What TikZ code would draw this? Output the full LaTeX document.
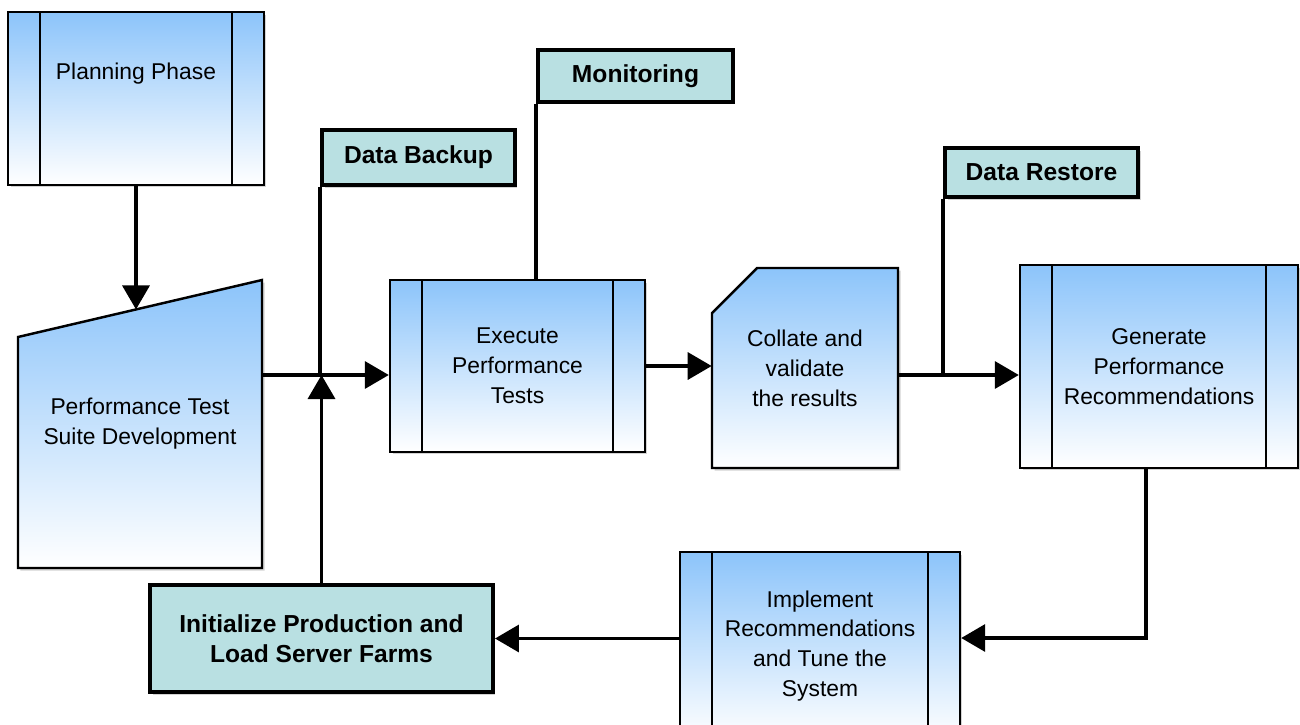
\documentclass[tikz,border=0pt]{standalone}
\usepackage{fontspec}
\setmainfont{Liberation Sans}
\usetikzlibrary{arrows.meta,calc,shadows}
\definecolor{procblue}{RGB}{140,196,250}
\definecolor{flagteal}{RGB}{185,224,226}
\tikzset{
	boxshadow/.style={drop shadow={shadow xshift=0.05cm, shadow yshift=-0.05cm, opacity=0.35}},
	blueshade/.style={top color=procblue, bottom color=white, draw=black, line width=1.4pt, boxshadow},
	plaintext/.style={align=center, font=\fontsize{13}{17}\selectfont},
	subproc/.style={blueshade, rectangle, plaintext, path picture={
		\draw[line width=1.4pt] ([xshift=0.64cm]path picture bounding box.north west) -- ([xshift=0.64cm]path picture bounding box.south west);
		\draw[line width=1.4pt] ([xshift=-0.64cm]path picture bounding box.north east) -- ([xshift=-0.64cm]path picture bounding box.south east);}},
	flagbox/.style={rectangle, draw=black, fill=flagteal, line width=2.3pt, boxshadow, align=center, font=\fontsize{14}{17}\selectfont\bfseries},
	link/.style={line width=2pt},
	flow/.style={link, -{Triangle[length=0.48cm,width=0.54cm]}}
}

\begin{document}
\begin{tikzpicture}[x=0.02cm, y=-0.02cm]
		%%%%% START %%%%%
		\useasboundingbox (0, 0) rectangle (1300, 724);
		
		% process boxes
		\node[subproc, minimum width=5.12cm, minimum height=3.46cm,
			label={[plaintext, yshift=0.50cm]center:Planning Phase}] (plan) at (136, 98.5) {};
		\draw[blueshade] (18, 337) -- (262, 280) -- (262, 568) -- (18, 568) -- cycle;
		\node[plaintext, minimum width=4.88cm, minimum height=5.76cm] (suite) at (140, 424) {Performance Test\\Suite Development};
		\coordinate (suitein) at ($(18, 337)!0.4836!(262, 280)$);
		\node[subproc, minimum width=5.10cm, minimum height=3.44cm] (exec) at (517.5, 366) {Execute\\Performance\\Tests};
		\draw[blueshade] (712, 313) -- (757, 268) -- (898, 268) -- (898, 468) -- (712, 468) -- cycle;
		\node[plaintext, minimum width=3.72cm, minimum height=4.00cm] (collate) at (805, 368) {Collate and\\validate\\the results};
		\node[subproc, minimum width=5.56cm, minimum height=4.06cm] (gen) at (1159, 366.5) {Generate\\Performance\\Recommendations};
		\node[subproc, minimum width=5.60cm, minimum height=3.76cm] (impl) at (820, 646) {Implement\\Recommendations\\and Tune the\\System};
		
		% flag boxes
		\node[flagbox, minimum width=6.86cm, minimum height=2.14cm] (init) at (321.5, 638.5) {Initialize Production and\\Load Server Farms};
		\node[flagbox, minimum width=3.86cm, minimum height=1.10cm] (backup) at (418.5, 157.5) {Data Backup};
		\node[flagbox, minimum width=3.90cm, minimum height=1.04cm] (mon) at (635.5, 76) {Monitoring};
		\node[flagbox, minimum width=3.86cm, minimum height=0.98cm] (restore) at (1041.5, 172.5) {Data Restore};
		
		% connectors
		\coordinate (j1) at (321.5, 375);
		\coordinate (j2) at (945, 375);
		\coordinate (j3) at (1146, 638);
		\draw[flow] (plan.south) -- (suitein);
		\draw[flow] (suite.east |- j1) -- (exec.west |- j1);
		\draw[link] (backup.south west) -- (backup.south west |- j1);
		\draw[flow] (init.north) -- (j1);
		\draw[link] (mon.south west) -- (mon.south west |- exec.north);
		\draw[flow] (exec.east) -- (exec.east -| collate.west);
		\draw[flow] (collate.east |- j2) -- (gen.west |- j2);
		\draw[link] (restore.south west) -- (restore.south west |- j2);
		\draw[flow] (gen.south -| j3) -- (j3) -- (impl.east |- j3);
		\draw[flow] (impl.west |- init.east) -- (init.east);
		
		%%%%% END %%%%%
	\end{tikzpicture}
\end{document}
